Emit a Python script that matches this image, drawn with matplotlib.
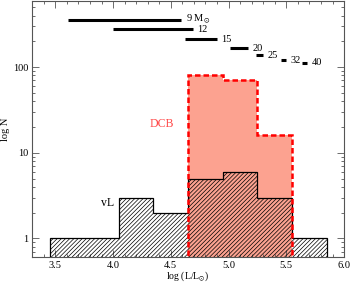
import matplotlib
matplotlib.use('Agg')
import matplotlib.pyplot as plt
from matplotlib.ticker import MultipleLocator, LogLocator, FixedLocator, NullFormatter

# histogram bins in log(L/Lsun)
bin_edges = [3.45, 3.75, 4.05, 4.35, 4.65, 4.95, 5.25, 5.55, 5.85]
vl_counts = [1, 1, 3, 2, 5, 6, 3, 1]
dcb_edges = [4.65, 4.95, 5.25, 5.55]
dcb_counts = [80, 70, 16]

# luminosity ranges of the mass tracks
track_lo = [3.61, 4.00, 4.62, 5.01, 5.24, 5.45, 5.64]
track_hi = [4.59, 4.69, 4.90, 5.17, 5.30, 5.50, 5.68]
track_n = [360, 277, 212, 166, 138, 120, 112]
track_labels = ['9 M$_{\\odot}$', '12', '15', '20', '25', '32', '40']

plt.rcParams['font.family'] = 'Liberation Serif'
plt.rcParams['mathtext.fontset'] = 'stix'
plt.rcParams['hatch.linewidth'] = 0.5

fig = plt.figure(figsize=(3.5, 2.82), dpi=100)
ax = fig.add_axes([0.092, 0.087, 0.891, 0.911])
ax.set_yscale('log')

base = 0.5
ax.stairs(dcb_counts, dcb_edges, baseline=base, fill=True,
          color='#fca290', linewidth=0, zorder=1)
ax.stairs(vl_counts, bin_edges, baseline=base, fill=True,
          facecolor='none', edgecolor='k', hatch='////////', linewidth=0, zorder=2)
ax.stairs(vl_counts, bin_edges, baseline=base, color='k',
          linewidth=0.9, zorder=3)
ax.stairs(dcb_counts, dcb_edges, baseline=base, color='red',
          linewidth=1.8, linestyle=(0, (2.2, 1.2)), zorder=4)

for lo, hi, n, lab in zip(track_lo, track_hi, track_n, track_labels):
    ax.plot([lo, hi], [n, n], color='k', linewidth=2.2, solid_capstyle='butt')
    ax.text(hi + 0.04, n, lab, fontsize=7.5, va='center', ha='left')

ax.text(4.42, 22, 'DCB', color='#ff4a4a', fontsize=8.5, ha='center', va='center')
ax.text(3.95, 2.6, 'vL', color='k', fontsize=8.5, ha='center', va='center')

ax.set_xlim(3.3, 6.0)
ax.set_ylim(0.6, 600)
ax.xaxis.set_major_locator(MultipleLocator(0.5))
ax.xaxis.set_minor_locator(MultipleLocator(0.1))
ax.yaxis.set_major_locator(FixedLocator([1, 10, 100]))
ax.yaxis.set_major_formatter(plt.FixedFormatter(['1', '10', '100']))
ax.yaxis.set_minor_locator(LogLocator(base=10, subs=range(2, 10)))
ax.yaxis.set_minor_formatter(NullFormatter())

ax.tick_params(which='both', direction='in', top=True, right=True,
               color='#555555', labelsize=7.5, pad=3)
ax.tick_params(axis='x', which='both', pad=2.5)
ax.tick_params(which='major', length=5, width=0.6)
ax.tick_params(which='minor', length=2.5, width=0.6)
for s in ax.spines.values():
    s.set_color('#555555')
    s.set_linewidth(0.8)

ax.set_xlabel('log (L/L$_{\\odot}$)', fontsize=7, labelpad=0)
ax.set_ylabel('log N', fontsize=7.5, labelpad=2)

fig.savefig('out.png', dpi=100)
